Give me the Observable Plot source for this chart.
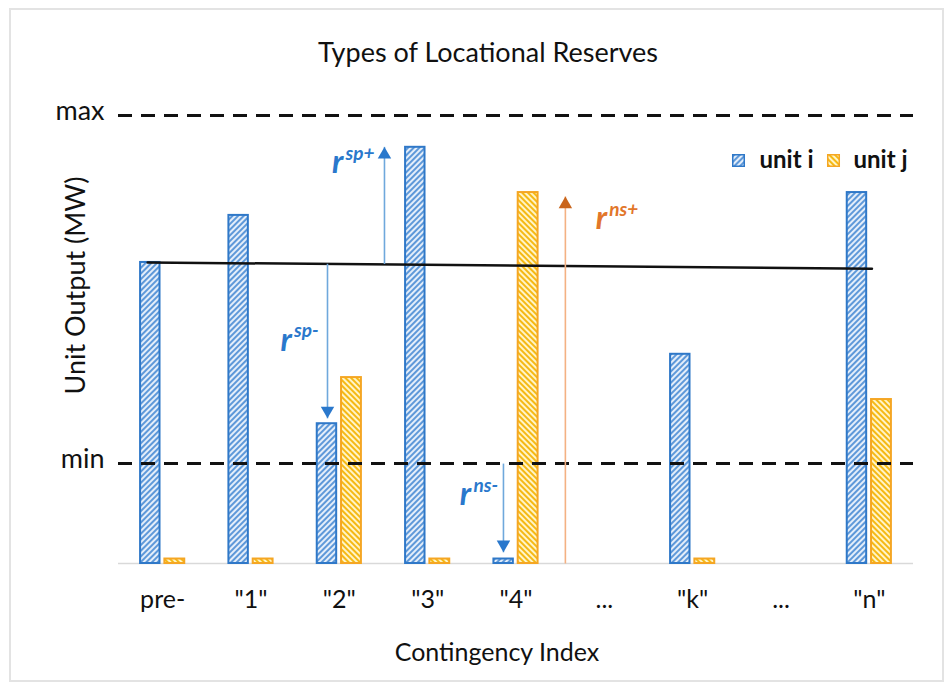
<!DOCTYPE html>
<html><head><meta charset="utf-8">
<script src="https://cdn.jsdelivr.net/npm/d3@7"></script>
<script src="https://cdn.jsdelivr.net/npm/@observablehq/plot@0.6"></script>
<style>
body{margin:0;background:#fff;}
#wrap{position:relative;width:950px;height:687px;}
#border{position:absolute;left:9px;top:8px;width:931px;height:670px;border:2px solid #e3e3e3;pointer-events:none;}
</style></head><body>
<div id="wrap"><div id="border"></div></div>
<script>
// ---- data ----
const categories = ["pre-", "\"1\"", "\"2\"", "\"3\"", "\"4\"", "...", "\"k\"", "...", "\"n\""];
const unitI = [67.2, 77.7, 31.2, 92.9, 1.0, null, 46.7, null, 82.8];
const unitJ = [1.0, 1.0, 41.5, 1.0, 82.8, null, 1.0, null, 36.6];
const levelLabels = ["min", "max"];
const levelValues = [22.3, 100];
const preLine = [{x: -0.17, y: 67.2}, {x: 8.03, y: 65.8}];
const arrowNames = ["sp+", "sp-", "ns-", "ns+"];
const arrowX = [2.511, 1.866, 3.858, 4.559];
const arrowFrom = [66.85, 66.9, 22.3, 0];
const arrowTo = [93.0, 32.4, 2.5, 81.9];
const arrowGroup = ["blue", "blue", "blue", "orange"];
const labelX = [1.98, 1.397, 3.428, 4.966];
const labelY = [89.5, 49.8, 15.4, 77.0];
const legendItems = ["unit i", "unit j"];

const font = "Lato, 'Open Sans', sans-serif";
const colors = {
  blue: {shaft: "#6fa8dc", head: "#2a78cc", text: "#2a78cc"},
  orange: {shaft: "#f4b183", head: "#c9651c", text: "#e2762a"}
};

const rowsI = categories.map((c, k) => ({k, v: unitI[k]})).filter(d => d.v != null);
const rowsJ = categories.map((c, k) => ({k, v: unitJ[k]})).filter(d => d.v != null);
const arrows = arrowNames.map((n, i) => ({n, x: arrowX[i], y1: arrowFrom[i], y2: arrowTo[i], g: arrowGroup[i], up: arrowTo[i] > arrowFrom[i]}));
const labels = arrowNames.map((n, i) => ({n, x: labelX[i], y: labelY[i], g: arrowGroup[i]}));

const blueStroke = "#2f78c8", orangeStroke = "#f5a623";

const chart = Plot.plot({
  width: 950, height: 687,
  marginTop: 115, marginBottom: 124, marginLeft: 118, marginRight: 37,
  style: {fontFamily: font, background: "transparent", color: "#111"},
  x: {domain: [-0.5, 8.5]},
  y: {domain: [0, 100]},
  marks: [
    Plot.ruleY([0], {stroke: "#d9d9d9", strokeWidth: 1.5}),
    Plot.rect(rowsI, {x1: d => d.k - 0.25, x2: d => d.k - 0.03, y1: d => 0, y2: "v", fill: "url(#hatchI)", stroke: blueStroke, strokeWidth: 2}),
    Plot.rect(rowsJ, {x1: d => d.k + 0.025, x2: d => d.k + 0.25, y1: d => 0, y2: "v", fill: "url(#hatchJ)", stroke: orangeStroke, strokeWidth: 2}),
    Plot.ruleY(levelValues, {stroke: "#111", strokeWidth: 3, strokeDasharray: "14,9"}),
    Plot.line(preLine, {x: "x", y: "y", stroke: "#111", strokeWidth: 2.5}),
    Plot.link(arrows, {x1: "x", x2: "x", y1: "y1", y2: "y2", stroke: d => colors[d.g].shaft, strokeWidth: 1.6}),
    Plot.dot(arrows.filter(d => d.up), {x: "x", y: "y2", symbol: "triangle", r: 5, fill: d => colors[d.g].head, stroke: "none", dy: 7.8}),
    Plot.dot(arrows.filter(d => !d.up), {x: "x", y: "y2", symbol: "triangle", r: 5, rotate: 180, fill: d => colors[d.g].head, stroke: "none", dy: -7.8}),
    Plot.text(labels, {x: "x", y: "y", text: d => "r", fill: d => colors[d.g].text, fontSize: 32, fontWeight: "bold", fontStyle: "italic", textAnchor: "middle"}),
    Plot.text(labels, {x: "x", y: "y", text: "n", fill: d => colors[d.g].text, fontSize: 19, fontWeight: "bold", fontStyle: "italic", textAnchor: "start", dx: 8, dy: -9}),
    // legend
    Plot.dot([legendItems[0]], {frameAnchor: "top-right", dx: -175, dy: 45, symbol: "square", r: 6.5, fill: "url(#hatchI)", stroke: blueStroke, strokeWidth: 1.5}),
    Plot.dot([legendItems[1]], {frameAnchor: "top-right", dx: -80, dy: 45, symbol: "square", r: 6.5, fill: "url(#hatchJ)", stroke: orangeStroke, strokeWidth: 1.5}),
    Plot.text([legendItems[0]], {frameAnchor: "top-right", dx: -154, dy: 45, text: d => d, textAnchor: "start", lineAnchor: "middle", fontSize: 24, fontWeight: "bold", fill: "#111"}),
    Plot.text([legendItems[1]], {frameAnchor: "top-right", dx: -60, dy: 45, text: d => d, textAnchor: "start", lineAnchor: "middle", fontSize: 24, fontWeight: "bold", fill: "#111"}),
    // axes
    Plot.axisX({ticks: categories.map((_, k) => k), tickFormat: k => categories[k], tickSize: 0, tickPadding: 27, fontSize: 25, label: null}),
    Plot.axisY({ticks: levelValues, tickFormat: (d, i) => levelLabels[i], tickSize: 0, tickPadding: 14, fontSize: 27, dy: -4, label: null}),
    // titles
    Plot.text(["Types of Locational Reserves"], {frameAnchor: "top", dx: -28, dy: -62, lineAnchor: "middle", text: d => d, fontSize: 27, fill: "#111"}),
    Plot.text(["Contingency Index"], {frameAnchor: "bottom", dx: -19, dy: 89, lineAnchor: "middle", text: d => d, fontSize: 25, fill: "#111"}),
    Plot.text(["Unit Output (MW)"], {frameAnchor: "left", dx: -42, dy: -54, rotate: -90, textAnchor: "middle", lineAnchor: "middle", text: d => d, fontSize: 27, fill: "#111"})
  ]
});

const defs = d3.select(chart).insert("defs", ":first-child");
function hatch(id, angle, bg, line) {
  const p = defs.append("pattern").attr("id", id).attr("patternUnits", "userSpaceOnUse")
    .attr("width", 4).attr("height", 4).attr("patternTransform", `rotate(${angle})`);
  p.append("rect").attr("width", 4).attr("height", 4).attr("fill", bg);
  p.append("line").attr("x1", 1).attr("x2", 1).attr("y1", 0).attr("y2", 4).attr("stroke", line).attr("stroke-width", 1.8);
}
hatch("hatchI", 45, "#e4eefa", "#4f8fd6");
hatch("hatchJ", -45, "#fff4c8", "#f4b300");

document.getElementById("wrap").appendChild(chart);
</script>
</body></html>
